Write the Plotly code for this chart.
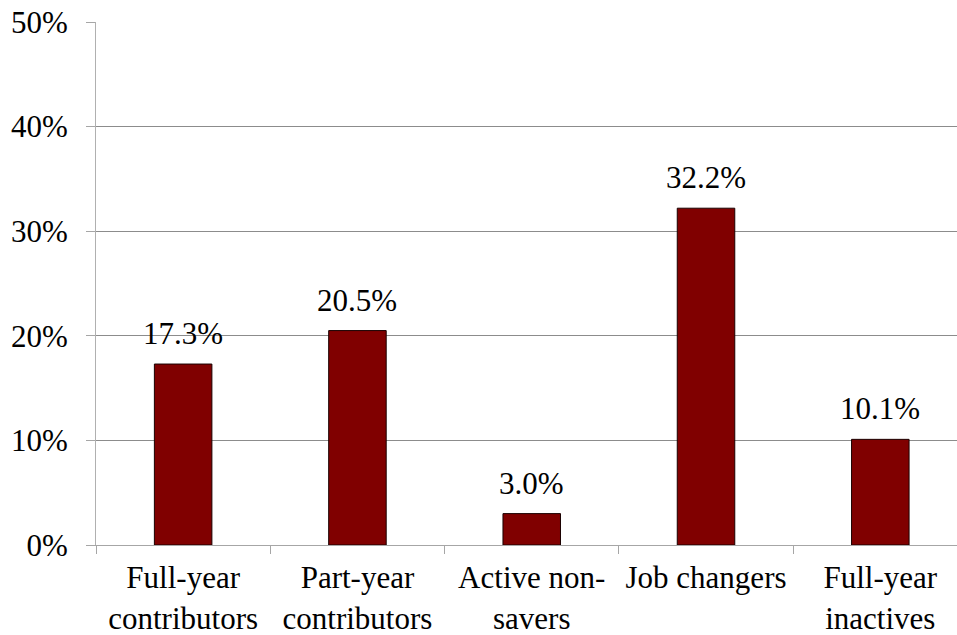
import plotly.graph_objects as go

# Share of participants by contribution status
categories = ["Full-year<br>contributors", "Part-year<br>contributors",
              "Active non-<br>savers", "Job changers", "Full-year<br>inactives"]
shares = [17.3, 20.5, 3.0, 32.2, 10.1]
share_labels = ["17.3%", "20.5%", "3.0%", "32.2%", "10.1%"]
y_tick_values = [0, 10, 20, 30, 40, 50]
y_tick_labels = ["0%", "10%", "20%", "30%", "40%", "50%"]

font_family = "Liberation Serif"
font_size = 31

fig = go.Figure(
    go.Bar(
        x=categories,
        y=shares,
        marker=dict(color="#800000", line=dict(color="#1a0000", width=1)),
        width=0.33,
    )
)

# value labels above each bar
for cat, val, lab in zip(categories, shares, share_labels):
    fig.add_annotation(
        x=cat, y=val, text=lab, showarrow=False,
        xanchor="center", yanchor="bottom", yshift=11,
        font=dict(family=font_family, size=font_size, color="black"),
    )

fig.update_layout(
    width=957,
    height=635,
    margin=dict(l=96, r=0, t=22, b=90),
    paper_bgcolor="white",
    plot_bgcolor="white",
    showlegend=False,
    font=dict(family=font_family, size=font_size, color="black"),
)

fig.update_xaxes(
    range=[-0.5, 4.44],
    automargin=False,
    tickson="boundaries",
    ticks="outside",
    ticklen=8,
    tickcolor="#a6a6a6",
    showline=True,
    linecolor="#a6a6a6",
    linewidth=1,
    showgrid=False,
    ticklabelstandoff=5,
    tickfont=dict(family=font_family, size=font_size, color="black"),
)

fig.update_yaxes(
    range=[0, 50],
    automargin=False,
    tickvals=y_tick_values,
    ticktext=y_tick_labels,
    ticks="outside",
    ticklen=9,
    tickcolor="#a6a6a6",
    showline=True,
    linecolor="#b0b0b0",
    linewidth=1,
    showgrid=True,
    gridcolor="#8c8c8c",
    gridwidth=1,
    zeroline=False,
    ticklabelstandoff=12,
    tickfont=dict(family=font_family, size=font_size, color="black"),
)

fig.write_html("out.html")
